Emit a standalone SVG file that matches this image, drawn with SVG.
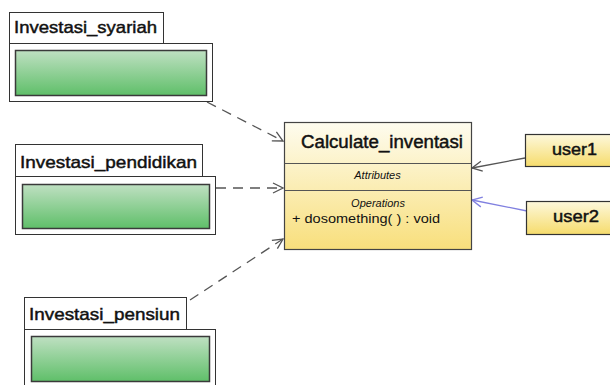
<svg xmlns="http://www.w3.org/2000/svg" width="610" height="385" viewBox="0 0 610 385">
  <style>
    text { font-family: "Liberation Sans", Arial, sans-serif; fill: #111; }
    .heavy { stroke: #111; stroke-width: 0.45; }
    .pkg-tab, .pkg-body { fill: #ffffff; stroke: #333; stroke-width: 1; }
    .pkg-inner { fill: url(#greenGrad); stroke: #3a3a3a; stroke-width: 1.5; }
    .pkg-label { font-size: 17px; }
    .cls { fill: url(#classGrad); stroke: #444; stroke-width: 1.2; }
    .sep { stroke: #555; stroke-width: 1; }
    .actor { fill: url(#actorGrad); stroke: #333; stroke-width: 1.2; }
    .dep { fill: none; stroke: #555; stroke-width: 1.3; stroke-dasharray: 10 7; marker-end: url(#openArrow); }
    .assoc { fill: none; stroke: #555; stroke-width: 1.3; marker-end: url(#openArrow); }
    .assoc-blue { fill: none; stroke: #8080e0; stroke-width: 1.3; marker-end: url(#openArrowBlue); }
  </style>
  <defs>
    <linearGradient id="greenGrad" x1="0" y1="0" x2="0" y2="1">
      <stop offset="0" stop-color="#bfe0c2"/>
      <stop offset="1" stop-color="#5fbf69"/>
    </linearGradient>
    <linearGradient id="classGrad" x1="0" y1="0" x2="0" y2="1">
      <stop offset="0" stop-color="#fefcef"/>
      <stop offset="1" stop-color="#f8df7c"/>
    </linearGradient>
    <linearGradient id="actorGrad" x1="0" y1="0" x2="0" y2="1">
      <stop offset="0" stop-color="#fdf8dc"/>
      <stop offset="1" stop-color="#f6dc6c"/>
    </linearGradient>
    <marker id="openArrow" viewBox="0 0 12 12" refX="11" refY="6" markerWidth="12" markerHeight="12" markerUnits="userSpaceOnUse" orient="auto">
      <path d="M1,1 L11,6 L1,11" fill="none" stroke="#555" stroke-width="1.3"/>
    </marker>
    <marker id="openArrowBlue" viewBox="0 0 12 12" refX="11" refY="6" markerWidth="12" markerHeight="12" markerUnits="userSpaceOnUse" orient="auto">
      <path d="M1,1 L11,6 L1,11" fill="none" stroke="#8080e0" stroke-width="1.3"/>
    </marker>
  </defs>

  <rect width="610" height="385" fill="#ffffff"/>

  <!-- connectors -->
  <g id="connectors">
    <path class="dep" d="M207,102 L283,141"/>
    <path class="dep" d="M216,188 L283,188"/>
    <path class="dep" d="M190,300 L283,239"/>
    <path class="assoc" d="M525,158 L472,168"/>
    <path class="assoc-blue" d="M527,211 L472,200"/>
  </g>

  <!-- packages -->
  <g id="Investasi_syariah">
    <rect class="pkg-tab" x="9.5" y="12.5" width="154" height="31"/>
    <rect class="pkg-body" x="9.5" y="43.5" width="203" height="58"/>
    <rect class="pkg-inner" x="15.5" y="50.5" width="191" height="45"/>
    <text class="pkg-label heavy" x="14" y="33" textLength="143" lengthAdjust="spacingAndGlyphs">Investasi_syariah</text>
  </g>

  <g id="Investasi_pendidikan">
    <rect class="pkg-tab" x="15.5" y="144.5" width="187" height="32"/>
    <rect class="pkg-body" x="15.5" y="176.5" width="200" height="58"/>
    <rect class="pkg-inner" x="22.5" y="184.5" width="187" height="44"/>
    <text class="pkg-label heavy" x="20" y="168" textLength="177" lengthAdjust="spacingAndGlyphs">Investasi_pendidikan</text>
  </g>

  <g id="Investasi_pensiun">
    <rect class="pkg-tab" x="24.5" y="297.5" width="162" height="32"/>
    <rect class="pkg-body" x="24.5" y="329.5" width="191" height="62"/>
    <rect class="pkg-inner" x="31.5" y="336.5" width="178" height="45"/>
    <text class="pkg-label heavy" x="29" y="320" textLength="151" lengthAdjust="spacingAndGlyphs">Investasi_pensiun</text>
  </g>

  <!-- class -->
  <g id="Calculate_inventasi">
    <rect class="cls" x="284.5" y="122.5" width="187" height="127"/>
    <line class="sep" x1="284.5" y1="163.5" x2="471.5" y2="163.5"/>
    <line class="sep" x1="284.5" y1="190.5" x2="471.5" y2="190.5"/>
    <text class="heavy" x="301" y="148" font-size="17.5" textLength="162" lengthAdjust="spacingAndGlyphs">Calculate_inventasi</text>
    <text x="377.5" y="179" font-size="11" font-style="italic" text-anchor="middle" fill="#333">Attributes</text>
    <text x="378" y="207" font-size="11" font-style="italic" text-anchor="middle" fill="#333">Operations</text>
    <text x="292" y="223" font-size="12.5" textLength="148" lengthAdjust="spacingAndGlyphs">+ dosomething(  ) : void</text>
  </g>

  <!-- actors -->
  <g id="user1">
    <rect class="actor" x="525.5" y="134.5" width="100" height="32"/>
    <text class="heavy" x="552" y="155" font-size="16" textLength="45" lengthAdjust="spacingAndGlyphs">user1</text>
  </g>
  <g id="user2">
    <rect class="actor" x="526.5" y="201.5" width="100" height="33"/>
    <text class="heavy" x="553" y="222" font-size="16" textLength="46" lengthAdjust="spacingAndGlyphs">user2</text>
  </g>
</svg>
